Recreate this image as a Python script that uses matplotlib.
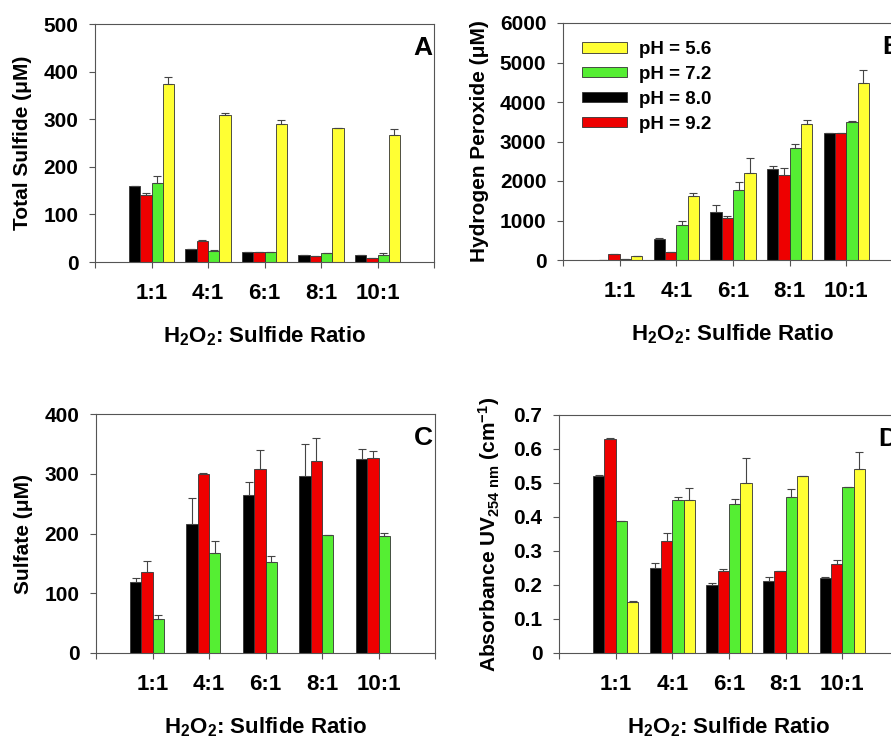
import numpy as np
import matplotlib.pyplot as plt

plt.rcParams['font.family'] = ['Liberation Sans', 'DejaVu Sans']
plt.rcParams['font.weight'] = 'bold'
plt.rcParams['axes.labelweight'] = 'bold'
plt.rcParams['mathtext.fontset'] = 'custom'
plt.rcParams['mathtext.rm'] = 'Liberation Sans:bold'
plt.rcParams['mathtext.bf'] = 'Liberation Sans:bold'
plt.rcParams['mathtext.it'] = 'Liberation Sans:bold'
plt.rcParams['mathtext.default'] = 'rm'

ratios = ['1:1', '4:1', '6:1', '8:1', '10:1']
series = ['pH = 8.0', 'pH = 9.2', 'pH = 7.2', 'pH = 5.6']
colors = ['black', '#ee0000', '#55ee33', '#ffff33']

# A - total sulfide (uM), order: pH 8.0, 9.2, 7.2, 5.6
sulfide = [[160, 27, 21, 15, 15],
           [140, 45, 21, 12, 8],
           [166, 24, 20, 18, 15],
           [375, 308, 290, 281, 267]]
sulfide_err = [[0, 0, 0, 0, 0],
               [6, 2, 0, 0, 0],
               [14, 2, 0, 0, 3],
               [14, 4, 9, 0, 12]]

# B - hydrogen peroxide (uM)
peroxide = [[0, 532, 1224, 2304, 3207],
            [152, 200, 1055, 2143, 3207],
            [20, 878, 1772, 2844, 3502],
            [101, 1612, 2194, 3451, 4473]]
peroxide_err = [[0, 35, 170, 70, 20],
                [0, 0, 70, 195, 20],
                [0, 100, 210, 100, 25],
                [0, 75, 390, 90, 330]]

# C - sulfate (uM), no pH 5.6 data
sulfate = [[119, 216, 265, 296, 324],
           [136, 300, 308, 322, 326],
           [57, 167, 152, 198, 195]]
sulfate_err = [[6, 44, 22, 54, 17],
               [18, 2, 31, 38, 12],
               [6, 21, 11, 0, 6]]

# D - absorbance UV254
absorb = [[0.520, 0.249, 0.201, 0.211, 0.221],
          [0.629, 0.329, 0.240, 0.240, 0.261],
          [0.389, 0.450, 0.439, 0.459, 0.489],
          [0.150, 0.450, 0.500, 0.520, 0.540]]
absorb_err = [[0.005, 0.017, 0.005, 0.012, 0.003],
              [0.002, 0.025, 0.006, 0.0, 0.014],
              [0.0, 0.010, 0.015, 0.023, 0.0],
              [0.003, 0.034, 0.073, 0.0, 0.050]]

fig = plt.figure(figsize=(8.91, 7.36), dpi=100)
W, H = 891, 736


def make_ax(left, top, right, bottom):
    return fig.add_axes([left / W, 1 - bottom / H, (right - left) / W, (bottom - top) / H])


axA = make_ax(95, 24, 434, 262)
axB = make_ax(563, 23, 903, 260)
axC = make_ax(96, 414, 435, 653)
axD = make_ax(559, 415, 899, 653)

x = np.arange(1, 6)
width = 0.2
offsets = [-1.5, -0.5, 0.5, 1.5]


def draw(ax, vals, errs, ylim, yticks, ylabels, ylabel, letter, ypad=8):
    bars = []
    for i in range(len(vals)):
        b = ax.bar(x + offsets[i] * width, vals[i], width, color=colors[i],
                   edgecolor='#333333', linewidth=0.6,
                   yerr=[np.zeros(5), errs[i]], capsize=3,
                   error_kw=dict(ecolor='#444444', elinewidth=0.8, capthick=0.8),
                   label=series[i])
        bars.append(b)
    ax.set_xlim(0, 6)
    ax.set_ylim(*ylim)
    ax.set_xticks(range(7))
    ax.set_xticklabels([''] + ratios + [''], fontsize=16)
    ax.set_yticks(yticks)
    ax.set_yticklabels(ylabels, fontsize=15)
    ax.tick_params(axis='x', direction='out', length=4, width=0.8, color='#555555', pad=11)
    ax.tick_params(axis='y', direction='out', length=4, width=0.8, color='#555555', pad=8)
    for s in ax.spines.values():
        s.set_color('#555555')
        s.set_linewidth(0.8)
    ax.set_ylabel(ylabel, fontsize=15, labelpad=ypad)
    ax.set_xlabel('H$_2$O$_2$: Sulfide Ratio', fontsize=16, labelpad=15)
    ax.text(0.995, 0.95, letter, transform=ax.transAxes, ha='right', va='top',
            fontsize=19, fontweight='bold')
    return bars


draw(axA, sulfide, sulfide_err, (0, 500), range(0, 501, 100),
     [str(v) for v in range(0, 501, 100)], 'Total Sulfide (μM)', 'A')
bb = draw(axB, peroxide, peroxide_err, (0, 6000), range(0, 6001, 1000),
          [str(v) for v in range(0, 6001, 1000)], 'Hydrogen Peroxide (μM)', 'B')
draw(axC, sulfate, sulfate_err, (0, 400), range(0, 401, 100),
     [str(v) for v in range(0, 401, 100)], 'Sulfate (μM)', 'C')
dticks = [0, 0.1, 0.2, 0.3, 0.4, 0.5, 0.6, 0.7]
draw(axD, absorb, absorb_err, (0, 0.7), dticks,
     ['0'] + ['%.1f' % v for v in dticks[1:]],
     'Absorbance UV$_{254\\ nm}$ (cm$^{-1}$)', 'D')

order = [3, 2, 0, 1]
axB.legend([bb[i] for i in order], [series[i] for i in order], loc='upper left',
           bbox_to_anchor=(0.035, 0.955), frameon=False, fontsize=13.5,
           handlelength=2.4, handleheight=0.45, handletextpad=0.6,
           labelspacing=0.42, borderaxespad=0)

fig.savefig('out.png', dpi=100)
